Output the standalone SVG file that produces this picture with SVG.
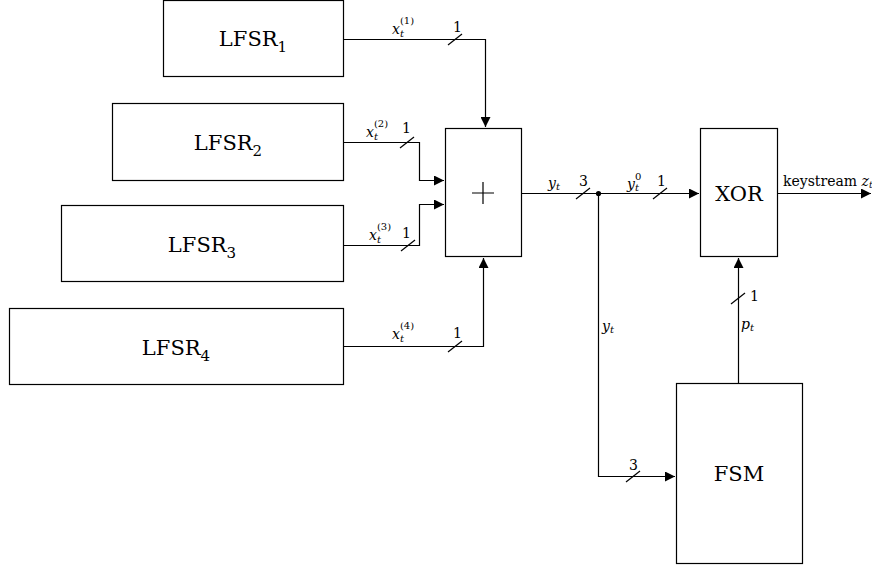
<svg xmlns="http://www.w3.org/2000/svg" width="872" height="569" viewBox="0 0 872 569">
<style>
.box{fill:#fff;stroke:#000;stroke-width:1.2}
.w{fill:none;stroke:#000;stroke-width:1.2}
text{font-family:'DejaVu Serif','Liberation Serif',serif;fill:#000}
.big{font-size:21px}
.sm{font-size:14px}
.it{font-style:italic}
</style>
<defs>
<marker id="ah" viewBox="0 0 10 10" refX="10" refY="5" markerWidth="14" markerHeight="10" markerUnits="userSpaceOnUse" orient="auto">
<path d="M0,0 L10,5 L0,10 z" fill="#000"/>
</marker>
</defs>
<rect width="872" height="569" fill="#fff"/>
<g id="lfsr1"><rect class="box" x="163.5" y="0.5" width="180" height="76"/><text class="big" x="253" y="46" text-anchor="middle" font-family="'DejaVu Serif',serif">LFSR<tspan font-size="15" dy="6">1</tspan></text></g>
<g id="lfsr2"><rect class="box" x="112.5" y="103.5" width="231" height="77"/><text class="big" x="228" y="150" text-anchor="middle" font-family="'DejaVu Serif',serif">LFSR<tspan font-size="15" dy="6">2</tspan></text></g>
<g id="lfsr3"><rect class="box" x="61.5" y="205.5" width="282" height="76"/><text class="big" x="202" y="252" text-anchor="middle" font-family="'DejaVu Serif',serif">LFSR<tspan font-size="15" dy="6">3</tspan></text></g>
<g id="lfsr4"><rect class="box" x="9.5" y="308.5" width="334" height="76"/><text class="big" x="176" y="355" text-anchor="middle" font-family="'DejaVu Serif',serif">LFSR<tspan font-size="15" dy="6">4</tspan></text></g>
<g id="adder"><rect class="box" x="445.5" y="128.5" width="76" height="128"/><path class="w" d="M472,193 H494 M483,182 V204" stroke-width="1.4"/></g>
<g id="xor"><rect class="box" x="700.5" y="128.5" width="77" height="128"/><text class="big" x="739" y="201" text-anchor="middle">XOR</text></g>
<g id="fsm"><rect class="box" x="676.5" y="383.5" width="126" height="180"/><text class="big" x="739" y="481" text-anchor="middle">FSM</text></g>
<g id="connectors">
<path class="w" d="M343,39.5 H485.5 V127" marker-end="url(#ah)"/>
<path class="w" d="M343,142.5 H419.5 V180.5 H444" marker-end="url(#ah)"/>
<path class="w" d="M343,245.5 H419.5 V204.5 H444" marker-end="url(#ah)"/>
<path class="w" d="M343,346.5 H483.5 V258" marker-end="url(#ah)"/>
<path class="w" d="M521,193.5 H699" marker-end="url(#ah)"/>
<path class="w" d="M598.5,193 V476.5 H675" marker-end="url(#ah)"/>
<path class="w" d="M738.5,383 V258" marker-end="url(#ah)"/>
<path class="w" d="M777,193.5 H871" marker-end="url(#ah)"/>
<circle cx="598.5" cy="193.5" r="2.6" fill="#000"/>
<g class="w">
<path d="M448,45 L462,34"/>
<path d="M400,148 L414,137"/>
<path d="M401,251 L415,240"/>
<path d="M448,352 L462,341"/>
<path d="M576,199 L590,188"/>
<path d="M653,199 L667,188"/>
<path d="M731,304 L745,293"/>
<path d="M626,482 L640,471"/>
</g>
<text class="sm it" x="392" y="34">x<tspan font-size="10" dy="3">t</tspan><tspan font-style="normal" font-size="10" dx="-4" dy="-13">(1)</tspan></text>
<text class="sm" x="453" y="32">1</text>
<text class="sm it" x="366" y="137">x<tspan font-size="10" dy="3">t</tspan><tspan font-style="normal" font-size="10" dx="-4" dy="-13">(2)</tspan></text>
<text class="sm" x="402" y="133">1</text>
<text class="sm it" x="369" y="240">x<tspan font-size="10" dy="3">t</tspan><tspan font-style="normal" font-size="10" dx="-4" dy="-13">(3)</tspan></text>
<text class="sm" x="402" y="238">1</text>
<text class="sm it" x="392" y="339">x<tspan font-size="10" dy="3">t</tspan><tspan font-style="normal" font-size="10" dx="-4" dy="-13">(4)</tspan></text>
<text class="sm" x="453" y="338">1</text>
<text class="sm it" x="548" y="188">y<tspan font-size="10" dy="2">t</tspan></text>
<text class="sm" x="579" y="186">3</text>
<text class="sm it" x="627" y="189">y<tspan font-size="10" dy="2">t</tspan><tspan font-style="normal" font-size="10" dx="-4" dy="-11">0</tspan></text>
<text class="sm" x="657" y="186">1</text>
<text class="sm" x="783" y="186" font-size="13">keystream <tspan font-style="italic">z</tspan><tspan font-style="italic" font-size="9" dy="2">t</tspan></text>
<text class="sm it" x="602" y="331">y<tspan font-size="10" dy="2">t</tspan></text>
<text class="sm" x="750" y="301">1</text>
<text class="sm it" x="741" y="329">p<tspan font-size="10" dy="2">t</tspan></text>
<text class="sm" x="629" y="470">3</text>
</g>
</svg>
